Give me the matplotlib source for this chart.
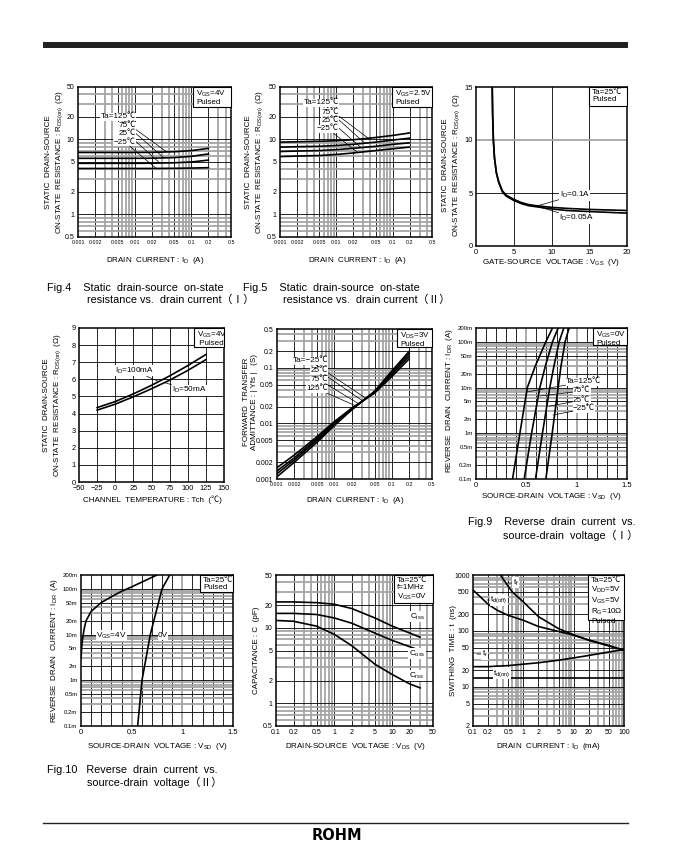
import numpy as np
import matplotlib
matplotlib.use('Agg')
import matplotlib.pyplot as plt
from matplotlib.patches import Rectangle
from matplotlib.ticker import NullLocator

plt.rcParams['font.family'] = ['Liberation Sans', 'Noto Sans CJK JP']
plt.rcParams['mathtext.fontset'] = 'custom'
plt.rcParams['mathtext.rm'] = 'Liberation Sans'
plt.rcParams['mathtext.it'] = 'Liberation Sans'
plt.rcParams['mathtext.bf'] = 'Liberation Sans:bold'

########################################################################################################################
# data
########################################################################################################################
# Fig.4  RDS(on) vs ID, VGS=4V
fig4_id = [0.001, 0.002, 0.005, 0.01, 0.02, 0.05, 0.1, 0.2]
fig4_r_125 = [6.7, 6.7, 6.7, 6.7, 6.72, 6.85, 7.1, 7.6]
fig4_r_75 = [5.6, 5.6, 5.6, 5.6, 5.62, 5.72, 5.95, 6.4]
fig4_r_25 = [4.8, 4.8, 4.8, 4.8, 4.82, 4.88, 5.0, 5.3]
fig4_r_m25 = [4.1, 4.1, 4.1, 4.1, 4.1, 4.12, 4.15, 4.2]

# Fig.5  RDS(on) vs ID, VGS=2.5V
fig5_id = [0.001, 0.002, 0.005, 0.01, 0.02, 0.05, 0.1, 0.2]
fig5_r_125 = [9.2, 9.3, 9.45, 9.6, 9.9, 10.6, 11.3, 12.2]
fig5_r_75 = [7.9, 8.0, 8.1, 8.3, 8.6, 9.2, 9.8, 10.4]
fig5_r_25 = [6.9, 7.0, 7.1, 7.3, 7.6, 8.1, 8.6, 9.0]
fig5_r_m25 = [5.9, 6.0, 6.1, 6.3, 6.6, 7.1, 7.5, 7.9]

# RDS(on) vs VGS
vgs = [2.15, 2.2, 2.3, 2.45, 2.7, 3.0, 3.5, 4.0, 5.0, 6.0, 7.0, 8.0, 10.0, 12.0, 15.0, 20.0]
r_vgs_01 = [15.0, 12.5, 10.0, 8.3, 6.9, 6.1, 5.2, 4.8, 4.4, 4.1, 3.9, 3.8, 3.65, 3.55, 3.45, 3.35]
r_vgs_005 = [15.0, 12.5, 10.0, 8.3, 6.9, 6.0, 5.1, 4.7, 4.3, 4.0, 3.8, 3.7, 3.5, 3.35, 3.25, 3.1]

# RDS(on) vs Tch
tch = [-25, 0, 25, 50, 75, 100, 125]
r_tch_100 = [4.35, 4.7, 5.15, 5.65, 6.2, 6.8, 7.45]
r_tch_50 = [4.2, 4.55, 4.98, 5.45, 5.95, 6.52, 7.15]

# |Yfs| vs ID
yfs_id = [0.001, 0.002, 0.005, 0.01, 0.02, 0.05, 0.1, 0.2]
yfs_m25 = [0.00110, 0.0020, 0.0046, 0.0092, 0.0175, 0.038, 0.088, 0.198]
yfs_25 = [0.00125, 0.0022, 0.0050, 0.0097, 0.0180, 0.037, 0.082, 0.180]
yfs_75 = [0.00140, 0.0024, 0.0054, 0.0102, 0.0184, 0.036, 0.076, 0.162]
yfs_125 = [0.00160, 0.0027, 0.0058, 0.0108, 0.0188, 0.035, 0.070, 0.145]

# Fig.9  IDR vs VSD, VGS=0V
fig9_idr = [0.0001, 0.001, 0.01, 0.03, 0.1, 0.2]
fig9_vsd_125 = [0.363, 0.436, 0.51, 0.59, 0.694, 0.76]
fig9_vsd_75 = [0.479, 0.552, 0.634, 0.69, 0.76, 0.816]
fig9_vsd_25 = [0.591, 0.66, 0.733, 0.775, 0.826, 0.872]
fig9_vsd_m25 = [0.694, 0.757, 0.816, 0.845, 0.885, 0.925]

# Fig.10 IDR vs VSD, Ta=25C
fig10_vsd_4v = [0.0, 0.005, 0.01, 0.03, 0.05, 0.1, 0.2, 0.3, 0.4, 0.5, 0.6, 0.75]
fig10_idr_4v = [0.003, 0.0045, 0.0065, 0.013, 0.02, 0.032, 0.05, 0.067, 0.088, 0.11, 0.14, 0.2]
fig10_idr_0v = [0.0001, 0.001, 0.01, 0.1, 0.2]
fig10_vsd_0v = [0.559, 0.602, 0.684, 0.8, 0.875]

# capacitance vs VDS
vds = [0.1, 0.2, 0.5, 1, 2, 5, 10, 20, 30]
ciss = [22, 22, 21.5, 20.5, 18, 13.5, 10.5, 8.5, 7.5]
coss = [15.5, 15.5, 15, 13.5, 11.5, 8.5, 6.8, 5.6, 5.0]
crss = [12.5, 12.2, 10.5, 8.2, 5.8, 3.3, 2.4, 1.8, 1.6]

# switching time vs ID (mA)
sw_id = [0.1, 0.2, 0.3, 0.5, 1, 2, 5, 10, 20, 50, 100]
t_doff = [540, 300, 235, 190, 155, 120, 98, 84, 69, 55, 45]
t_r = [23, 23, 23.5, 24, 25.5, 27, 30, 33, 36.5, 42, 46.5]
tf_id = [0.35, 0.45, 0.6, 1, 2, 5, 10, 20, 50, 100]
t_f = [1000, 720, 500, 330, 180, 110, 85, 68, 54, 45]
don_id = [0.1, 100]
t_don = [14.5, 14.5]

ticks_125 = [0.001, 0.002, 0.005, 0.01, 0.02, 0.05, 0.1, 0.2, 0.5]
labels_125 = ['0.001', '0.002', '0.005', '0.01', '0.02', '0.05', '0.1', '0.2', '0.5']
idr_ticks = [0.0001, 0.0002, 0.0005, 0.001, 0.002, 0.005, 0.01, 0.02, 0.05, 0.1, 0.2]
idr_labels = ['0.1m', '0.2m', '0.5m', '1m', '2m', '5m', '10m', '20m', '50m', '100m', '200m']

########################################################################################################################
# page helpers (pixel coordinates, origin top left)
########################################################################################################################
W, H = 673, 865
fig = plt.figure(figsize=(W / 100, H / 100), dpi=100)


def add_panel(x0, y0, x1, y1):
    ax = fig.add_axes([x0 / W, 1 - y1 / H, (x1 - x0) / W, (y1 - y0) / H])
    for s in ax.spines.values():
        s.set_linewidth(1.1)
        s.set_zorder(4)
    ax.tick_params(length=0, labelsize=5, pad=2.5)
    return ax


def log_grid(ax, which, lo, hi):
    line = ax.axvline if which == 'x' else ax.axhline
    e = int(np.floor(np.log10(lo) + 1e-9))
    while 10.0 ** e < hi:
        for m in range(1, 10):
            v = m * 10.0 ** e
            if v <= lo * 1.001 or v >= hi * 0.999:
                continue
            if m in (1, 2, 5):
                line(v, color='black', lw=0.6, zorder=1)
            else:
                line(v, color='#a5a5a5', lw=1.3, zorder=1)
        e += 1


def lin_grid(ax, which, values, gray=()):
    line = ax.axvline if which == 'x' else ax.axhline
    for v in values:
        if v in gray:
            line(v, color='#a5a5a5', lw=1.3, zorder=1)
        else:
            line(v, color='black', lw=0.6, zorder=1)


def set_ticks(ax, which, ticks, labels, size=5):
    axis = ax.xaxis if which == 'x' else ax.yaxis
    axis.set_major_locator(matplotlib.ticker.FixedLocator(ticks))
    axis.set_major_formatter(matplotlib.ticker.FixedFormatter(labels))
    axis.set_minor_locator(NullLocator())
    ax.tick_params(axis=which, labelsize=size)


def cond_box(x0, y0, x1, y1, text):
    fig.add_artist(Rectangle((x0 / W, 1 - y1 / H), (x1 - x0) / W, (y1 - y0) / H, transform=fig.transFigure,
                             fc='white', ec='black', lw=0.8, zorder=5))
    fig.text((x0 + 3) / W, 1 - (y0 + 1.5) / H, text, ha='left', va='top', fontsize=5.8, linespacing=1.15, zorder=6)


def ptext(x, y, s, **kw):
    fig.text(x / W, 1 - y / H, s, **kw)


def curve_label(ax, s, xy, xytext, ha='right'):
    ax.annotate(s, xy=xy, xytext=xytext, ha=ha, va='center', fontsize=5.9, zorder=6,
                bbox=dict(boxstyle='square,pad=0.05', fc='white', ec='none'),
                arrowprops=dict(arrowstyle='-', lw=0.5, color='black', shrinkA=0, shrinkB=0))


CURVE = dict(color='black', lw=1.2, zorder=3)
AXFONT = dict(fontsize=5.8)
CAPFONT = dict(fontsize=7.8, va='center')
RDS_LABEL = 'STATIC  DRAIN-SOURCE\nON-STATE  RESISTANCE : R$_{\\mathrm{DS(on)}}$  (Ω)'

########################################################################################################################
# page frame
########################################################################################################################
fig.add_artist(Rectangle((43 / W, 1 - 48 / H), 585 / W, 6 / H, transform=fig.transFigure, fc='#222222', ec='none'))
fig.add_artist(plt.Line2D([43 / W, 628 / W], [1 - 823 / H, 1 - 823 / H], transform=fig.transFigure, color='#222222', lw=1.0))
ptext(337, 836, 'ROHM', ha='center', va='center', fontsize=10.5, fontweight='heavy', family='DejaVu Sans')

########################################################################################################################
# Fig.4
########################################################################################################################
ax = add_panel(78, 87, 231, 237)
ax.set_xscale('log')
ax.set_yscale('log')
ax.set_xlim(0.001, 0.5)
ax.set_ylim(0.5, 50)
log_grid(ax, 'x', 0.001, 0.5)
log_grid(ax, 'y', 0.5, 50)
set_ticks(ax, 'x', ticks_125, labels_125, 3.8)
set_ticks(ax, 'y', [0.5, 1, 2, 5, 10, 20, 50], ['0.5', '1', '2', '5', '10', '20', '50'])
for r in (fig4_r_125, fig4_r_75, fig4_r_25, fig4_r_m25):
    ax.plot(fig4_id, r, **CURVE)
curve_label(ax, 'Ta=125℃', (0.037, 6.8), (0.0105, 20))
curve_label(ax, '75℃', (0.033, 5.65), (0.0105, 15.1))
curve_label(ax, '25℃', (0.028, 4.82), (0.0105, 11.9))
curve_label(ax, '−25℃', (0.024, 4.1), (0.0105, 9.2))
cond_box(193, 87, 231, 107, 'V$_{\\mathrm{GS}}$=4V\nPulsed')
ptext(55, 162, RDS_LABEL, rotation=90, ha='center', va='center', multialignment='center', **AXFONT)
ptext(155, 260, 'DRAIN  CURRENT : I$_{\\mathrm{D}}$  (A)', ha='center', va='center', **AXFONT)
ptext(47, 288, 'Fig.4    Static  drain-source  on-state', **CAPFONT)
ptext(87, 300, 'resistance vs.  drain current（Ⅰ）', **CAPFONT)

########################################################################################################################
# Fig.5
########################################################################################################################
ax = add_panel(280, 87, 432, 237)
ax.set_xscale('log')
ax.set_yscale('log')
ax.set_xlim(0.001, 0.5)
ax.set_ylim(0.5, 50)
log_grid(ax, 'x', 0.001, 0.5)
log_grid(ax, 'y', 0.5, 50)
set_ticks(ax, 'x', ticks_125, labels_125, 3.8)
set_ticks(ax, 'y', [0.5, 1, 2, 5, 10, 20, 50], ['0.5', '1', '2', '5', '10', '20', '50'])
for r in (fig5_r_125, fig5_r_75, fig5_r_25, fig5_r_m25):
    ax.plot(fig5_id, r, **CURVE)
curve_label(ax, 'Ta=125℃', (0.038, 10.2), (0.0112, 30.6))
curve_label(ax, '75℃', (0.032, 8.9), (0.0112, 23.1))
curve_label(ax, '25℃', (0.0274, 7.8), (0.0112, 17.7))
curve_label(ax, '−25℃', (0.0233, 6.8), (0.0112, 13.8))
cond_box(392, 87, 432, 107, 'V$_{\\mathrm{GS}}$=2.5V\nPulsed')
ptext(255, 162, RDS_LABEL, rotation=90, ha='center', va='center', multialignment='center', **AXFONT)
ptext(357, 260, 'DRAIN  CURRENT : I$_{\\mathrm{D}}$  (A)', ha='center', va='center', **AXFONT)
ptext(243, 288, 'Fig.5    Static  drain-source  on-state', **CAPFONT)
ptext(283, 300, 'resistance vs.  drain current（Ⅱ）', **CAPFONT)

########################################################################################################################
# RDS(on) vs VGS
########################################################################################################################
ax = add_panel(476, 87, 627, 246)
ax.set_xlim(0, 20)
ax.set_ylim(0, 15)
lin_grid(ax, 'x', [5, 10, 15])
lin_grid(ax, 'y', [5, 10], gray=(10,))
set_ticks(ax, 'x', [0, 5, 10, 15, 20], ['0', '5', '10', '15', '20'], 5.5)
set_ticks(ax, 'y', [0, 5, 10, 15], ['0', '5', '10', '15'], 5.5)
ax.plot(vgs, r_vgs_01, **CURVE)
ax.plot(vgs, r_vgs_005, **CURVE)
curve_label(ax, 'I$_{\\mathrm{D}}$=0.1A', (8.2, 3.8), (11.1, 4.8), ha='left')
curve_label(ax, 'I$_{\\mathrm{D}}$=0.05A', (8.2, 3.72), (11.0, 2.64), ha='left')
cond_box(589, 87, 627, 106, 'Ta=25℃\nPulsed')
ptext(452, 165, RDS_LABEL, rotation=90, ha='center', va='center', multialignment='center', **AXFONT)
ptext(551, 263, 'GATE-SOURCE  VOLTAGE : V$_{\\mathrm{GS}}$  (V)', ha='center', va='center', **AXFONT)

########################################################################################################################
# RDS(on) vs Tch
########################################################################################################################
ax = add_panel(79, 328, 224, 482)
ax.set_xlim(-50, 150)
ax.set_ylim(0, 9)
lin_grid(ax, 'x', [-25, 0, 25, 50, 75, 100, 125])
lin_grid(ax, 'y', [1, 2, 3, 4, 5, 6, 7, 8])
set_ticks(ax, 'x', [-50, -25, 0, 25, 50, 75, 100, 125, 150],
          ['−50', '−25', '0', '25', '50', '75', '100', '125', '150'], 5.3)
set_ticks(ax, 'y', list(range(10)), [str(v) for v in range(10)], 5.3)
ax.plot(tch, r_tch_100, **CURVE)
ax.plot(tch, r_tch_50, **CURVE)
curve_label(ax, 'I$_{\\mathrm{D}}$=100mA', (60, 5.87), (-1, 6.5), ha='left')
curve_label(ax, 'I$_{\\mathrm{D}}$=50mA', (68, 5.81), (78, 5.37), ha='left')
cond_box(194, 328, 224, 347, 'V$_{\\mathrm{GS}}$=4V\n Pulsed')
ptext(53, 405, RDS_LABEL, rotation=90, ha='center', va='center', multialignment='center', **AXFONT)
ptext(152, 500, 'CHANNEL  TEMPERATURE : Tch  (℃)', ha='center', va='center', **AXFONT)

########################################################################################################################
# |Yfs| vs ID
########################################################################################################################
ax = add_panel(277, 329, 432, 479)
ax.set_xscale('log')
ax.set_yscale('log')
ax.set_xlim(0.001, 0.5)
ax.set_ylim(0.001, 0.5)
log_grid(ax, 'x', 0.001, 0.5)
log_grid(ax, 'y', 0.001, 0.5)
set_ticks(ax, 'x', ticks_125, labels_125, 3.8)
set_ticks(ax, 'y', ticks_125, labels_125, 5)
for y in (yfs_m25, yfs_25, yfs_75, yfs_125):
    ax.plot(yfs_id, y, **CURVE)
curve_label(ax, 'Ta=−25℃', (0.034, 0.029), (0.0077, 0.133))
curve_label(ax, '25℃', (0.030, 0.026), (0.0077, 0.088))
curve_label(ax, '75℃', (0.0257, 0.023), (0.0077, 0.061))
curve_label(ax, '125℃', (0.0228, 0.021), (0.0077, 0.042))
cond_box(397, 329, 432, 347, 'V$_{\\mathrm{DS}}$=3V\nPulsed')
ptext(250, 402, 'FORWARD  TRANSFER\nADMITTANCE : | Yfs |   (S)', rotation=90, ha='center', va='center',
      multialignment='center', **AXFONT)
ptext(355, 500, 'DRAIN  CURRENT : I$_{\\mathrm{D}}$  (A)', ha='center', va='center', **AXFONT)

########################################################################################################################
# Fig.9
########################################################################################################################
ax = add_panel(476, 328, 627, 479)
ax.set_yscale('log')
ax.set_xlim(0, 1.5)
ax.set_ylim(0.0001, 0.2)
lin_grid(ax, 'x', [0.1, 0.2, 0.3, 0.4, 0.5, 0.6, 0.7, 0.8, 0.9, 1.0, 1.1, 1.2, 1.3, 1.4], gray=(0.5, 1.0))
log_grid(ax, 'y', 0.0001, 0.2)
set_ticks(ax, 'x', [0, 0.5, 1, 1.5], ['0', '0.5', '1', '1.5'], 5.5)
set_ticks(ax, 'y', idr_ticks, idr_labels, 4.3)
for v in (fig9_vsd_125, fig9_vsd_75, fig9_vsd_25, fig9_vsd_m25):
    ax.plot(v, fig9_idr, **CURVE)
curve_label(ax, 'Ta=125℃', (0.506, 0.008), (0.894, 0.0132), ha='left')
curve_label(ax, '75℃', (0.636, 0.0065), (0.963, 0.0084), ha='left')
curve_label(ax, '25℃', (0.725, 0.0039), (0.963, 0.0053), ha='left')
curve_label(ax, '−25℃', (0.765, 0.0025), (0.963, 0.0034), ha='left')
cond_box(593, 328, 627, 345, 'V$_{\\mathrm{GS}}$=0V\nPulsed')
ptext(450, 400, 'REVERSE  DRAIN  CURRENT : I$_{\\mathrm{DR}}$  (A)', rotation=90, ha='center', va='center', **AXFONT)
ptext(551, 497, 'SOURCE-DRAIN  VOLTAGE : V$_{\\mathrm{SD}}$  (V)', ha='center', va='center', **AXFONT)
ptext(468, 522, 'Fig.9    Reverse  drain  current  vs.', **CAPFONT)
ptext(503, 535, 'source-drain  voltage（Ⅰ）', **CAPFONT)

########################################################################################################################
# Fig.10
########################################################################################################################
ax = add_panel(81, 575, 233, 726)
ax.set_yscale('log')
ax.set_xlim(0, 1.5)
ax.set_ylim(0.0001, 0.2)
lin_grid(ax, 'x', [0.1, 0.2, 0.3, 0.4, 0.5, 0.6, 0.7, 0.8, 0.9, 1.0, 1.1, 1.2, 1.3, 1.4], gray=(0.5, 1.0))
log_grid(ax, 'y', 0.0001, 0.2)
set_ticks(ax, 'x', [0, 0.5, 1, 1.5], ['0', '0.5', '1', '1.5'], 5.5)
set_ticks(ax, 'y', idr_ticks, idr_labels, 4.3)
ax.plot(fig10_vsd_4v, fig10_idr_4v, **CURVE)
ax.plot(fig10_vsd_0v, fig10_idr_0v, **CURVE)
curve_label(ax, 'V$_{\\mathrm{GS}}$=4V', (0.01, 0.0093), (0.15, 0.0093), ha='left')
curve_label(ax, '0V', (0.68, 0.0093), (0.76, 0.0093), ha='left')
cond_box(200, 575, 233, 592, 'Ta=25℃\nPulsed')
ptext(55, 650, 'REVERSE  DRAIN  CURRENT : I$_{\\mathrm{DR}}$  (A)', rotation=90, ha='center', va='center', **AXFONT)
ptext(157, 746, 'SOURCE-DRAIN  VOLTAGE : V$_{\\mathrm{SD}}$  (V)', ha='center', va='center', **AXFONT)
ptext(47, 770, 'Fig.10   Reverse  drain  current  vs.', **CAPFONT)
ptext(87, 782, 'source-drain  voltage（Ⅱ）', **CAPFONT)

########################################################################################################################
# capacitance
########################################################################################################################
ax = add_panel(276, 575, 433, 726)
ax.set_xscale('log')
ax.set_yscale('log')
ax.set_xlim(0.1, 50)
ax.set_ylim(0.5, 50)
log_grid(ax, 'x', 0.1, 50)
log_grid(ax, 'y', 0.5, 50)
set_ticks(ax, 'x', [0.1, 0.2, 0.5, 1, 2, 5, 10, 20, 50], ['0.1', '0.2', '0.5', '1', '2', '5', '10', '20', '50'], 5)
set_ticks(ax, 'y', [0.5, 1, 2, 5, 10, 20, 50], ['0.5', '1', '2', '5', '10', '20', '50'], 5)
for c in (ciss, coss, crss):
    ax.plot(vds, c, **CURVE)
for s, y in (('C$_{\\mathrm{iss}}$', 13.9), ('C$_{\\mathrm{oss}}$', 4.5), ('C$_{\\mathrm{rss}}$', 2.3)):
    ax.text(26.5, y, s, ha='center', va='center', fontsize=5.9, zorder=6,
            bbox=dict(boxstyle='square,pad=0.05', fc='white', ec='none'))
cond_box(394, 575, 433, 603, 'Ta=25℃\nf=1MHz\nV$_{\\mathrm{GS}}$=0V')
ptext(256, 650, 'CAPACITANCE : C  (pF)', rotation=90, ha='center', va='center', **AXFONT)
ptext(355, 746, 'DRAIN-SOURCE  VOLTAGE : V$_{\\mathrm{DS}}$  (V)', ha='center', va='center', **AXFONT)

########################################################################################################################
# switching time
########################################################################################################################
ax = add_panel(473, 575, 624, 726)
ax.set_xscale('log')
ax.set_yscale('log')
ax.set_xlim(0.1, 100)
ax.set_ylim(2, 1000)
log_grid(ax, 'x', 0.1, 100)
log_grid(ax, 'y', 2, 1000)
set_ticks(ax, 'x', [0.1, 0.2, 0.5, 1, 2, 5, 10, 20, 50, 100],
          ['0.1', '0.2', '0.5', '1', '2', '5', '10', '20', '50', '100'], 5)
set_ticks(ax, 'y', [2, 5, 10, 20, 50, 100, 200, 500, 1000], ['2', '5', '10', '20', '50', '100', '200', '500', '1000'], 5)
ax.plot(tf_id, t_f, **CURVE)
ax.plot(sw_id, t_doff, **CURVE)
ax.plot(sw_id, t_r, **CURVE)
ax.plot(don_id, t_don, **CURVE)
curve_label(ax, 't$_{\\mathrm{f}}$', (0.45, 720), (0.62, 720), ha='left')
curve_label(ax, 't$_{\\mathrm{d(off)}}$', (0.19, 357), (0.22, 357), ha='left')
curve_label(ax, 't$_{\\mathrm{r}}$', (0.12, 38.6), (0.15, 38.6), ha='left')
curve_label(ax, 't$_{\\mathrm{d(on)}}$', (0.25, 17.6), (0.25, 17.6), ha='left')
cond_box(588, 575, 624, 620, 'Ta=25℃\nV$_{\\mathrm{DD}}$=5V\nV$_{\\mathrm{GS}}$=5V\nR$_{\\mathrm{G}}$=10Ω\nPulsed')
ptext(453, 650, 'SWITHING  TIME : t  (ns)', rotation=90, ha='center', va='center', **AXFONT)
ptext(548, 746, 'DRAIN  CURRENT : I$_{\\mathrm{D}}$  (mA)', ha='center', va='center', **AXFONT)

fig.savefig('out.png', dpi=100, facecolor='white')
